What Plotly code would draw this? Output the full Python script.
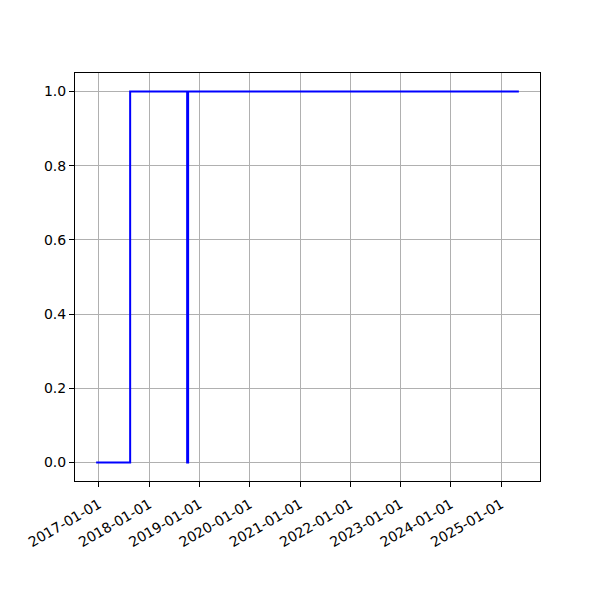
import plotly.graph_objects as go
import pandas as pd

dates = ["2016-12-12", "2017-08-16", "2018-10-04", "2018-10-11", "2025-05-09"]
values = [0, 1, 0, 1, 1]
tick_dates = [f"{y}-01-01" for y in range(2017, 2026)]
y_ticks = [0.0, 0.2, 0.4, 0.6, 0.8, 1.0]

d = pd.to_datetime(dates)
span = d.max() - d.min()
x_range = [d.min() - span * 0.05, d.max() + span * 0.05]
y_span = max(values) - min(values)
y_range = [min(values) - 0.05 * y_span, max(values) + 0.05 * y_span]

fig = go.Figure()
fig.add_trace(go.Scatter(
    x=d, y=values, mode="lines", line=dict(color="#0000ff", width=2, shape="hv"),
    showlegend=False,
))

axis_common = dict(
    showline=True, linecolor="black", linewidth=1, mirror=True,
    ticks="outside", ticklen=5, tickwidth=1, tickcolor="black",
    showgrid=True, gridcolor="#b0b0b0", gridwidth=1, zeroline=False,
    tickfont=dict(family="DejaVu Sans", size=14, color="black"),
    automargin=False,
)

fig.update_layout(
    width=600, height=600,
    margin=dict(l=67, r=68, t=65, b=127),
    plot_bgcolor="white", paper_bgcolor="white",
    xaxis=dict(range=x_range, tickvals=pd.to_datetime(tick_dates), ticktext=tick_dates,
               tickangle=-30, ticklabelstandoff=4, **axis_common),
    yaxis=dict(range=y_range, tickvals=y_ticks, ticktext=[f"{v:.1f}" for v in y_ticks],
               **axis_common),
)

fig.write_html("out.html")
